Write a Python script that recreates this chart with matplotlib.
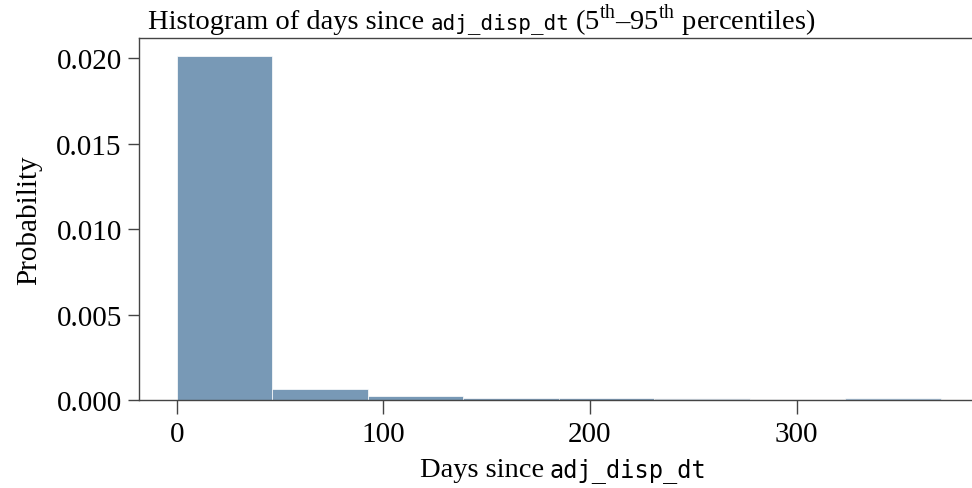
import numpy as np
import matplotlib.pyplot as plt

plt.rcParams['font.family'] = ['Liberation Serif', 'DejaVu Serif']
plt.rcParams['mathtext.fontset'] = 'custom'
plt.rcParams['mathtext.rm'] = 'Liberation Serif'

# histogram of days since adj_disp_dt, 8 bins between the 5th and 95th percentiles
range_lo = 0.0
range_hi = 369.8
probability = [0.0201, 0.00062, 0.00022, 0.00013, 0.00011, 0.00009, 0.00008, 0.00009]
bar_colors = ['#7899b6', '#7899b6', '#7899b6', '#7f9db8', '#7f9db8',
              '#d4dee8', '#dde4ea', '#a9c1d8']
x_ticks = [0, 100, 200, 300]
y_ticks = [0.000, 0.005, 0.010, 0.015, 0.020]

edges = np.linspace(range_lo, range_hi, len(probability) + 1)
widths = np.diff(edges)

W, H = 972, 489
fig = plt.figure(figsize=(W / 100, H / 100), dpi=100)
ax = fig.add_axes([138.5 / W, 88 / H, 840.5 / W, 362 / H])

ax.bar(edges[:-1], probability, width=widths, align='edge',
       color=bar_colors, edgecolor='white', linewidth=0.5)

ax.set_xlim(-18.5, 388.3)
ax.set_ylim(0, 0.02117)
ax.set_xticks(x_ticks)
ax.set_yticks(y_ticks)
ax.set_yticklabels([f"{v:.3f}" for v in y_ticks])

for s in ['left', 'top', 'bottom']:
    ax.spines[s].set_color('#444444')
    ax.spines[s].set_linewidth(1.0)
ax.spines['right'].set_visible(False)
ax.tick_params(axis='x', length=10, width=1, color='#444444', labelsize=21, pad=5)
ax.tick_params(axis='y', length=8, width=1, color='#444444', labelsize=21, pad=4)

ax.set_ylabel('Probability', fontsize=21, labelpad=10)

serif = dict(fontsize=20.5, family='Liberation Serif')
mono_title = dict(fontsize=15, family='DejaVu Sans Mono')
mono_label = dict(fontsize=17, family='DejaVu Sans Mono')


def chain_text(x_px, y_frac, pieces):
    # draw text pieces side by side, each with its own font
    renderer = fig.canvas.get_renderer()
    for s, props, gap in pieces:
        t = fig.text(x_px / W, y_frac, s, ha='left', va='baseline', **props)
        x_px = t.get_window_extent(renderer).x1 + gap


chain_text(148, 1 - 29 / H, [
    ('Histogram of days since', serif, 6),
    ('adj_disp_dt', mono_title, 6),
    (r'($5^{\mathrm{th}}$–$95^{\mathrm{th}}$ percentiles)', serif, 0),
])

# x label centred under the axes
renderer = fig.canvas.get_renderer()
pieces = [('Days since', serif, 6), ('adj_disp_dt', mono_label, 0)]
total = 0
for s, props, gap in pieces:
    t = fig.text(0, 0, s, **props)
    total += t.get_window_extent(renderer).width + gap
    t.remove()
chain_text(563 - total / 2, 1 - 477 / H, pieces)

plt.savefig('out.png', dpi=100)
